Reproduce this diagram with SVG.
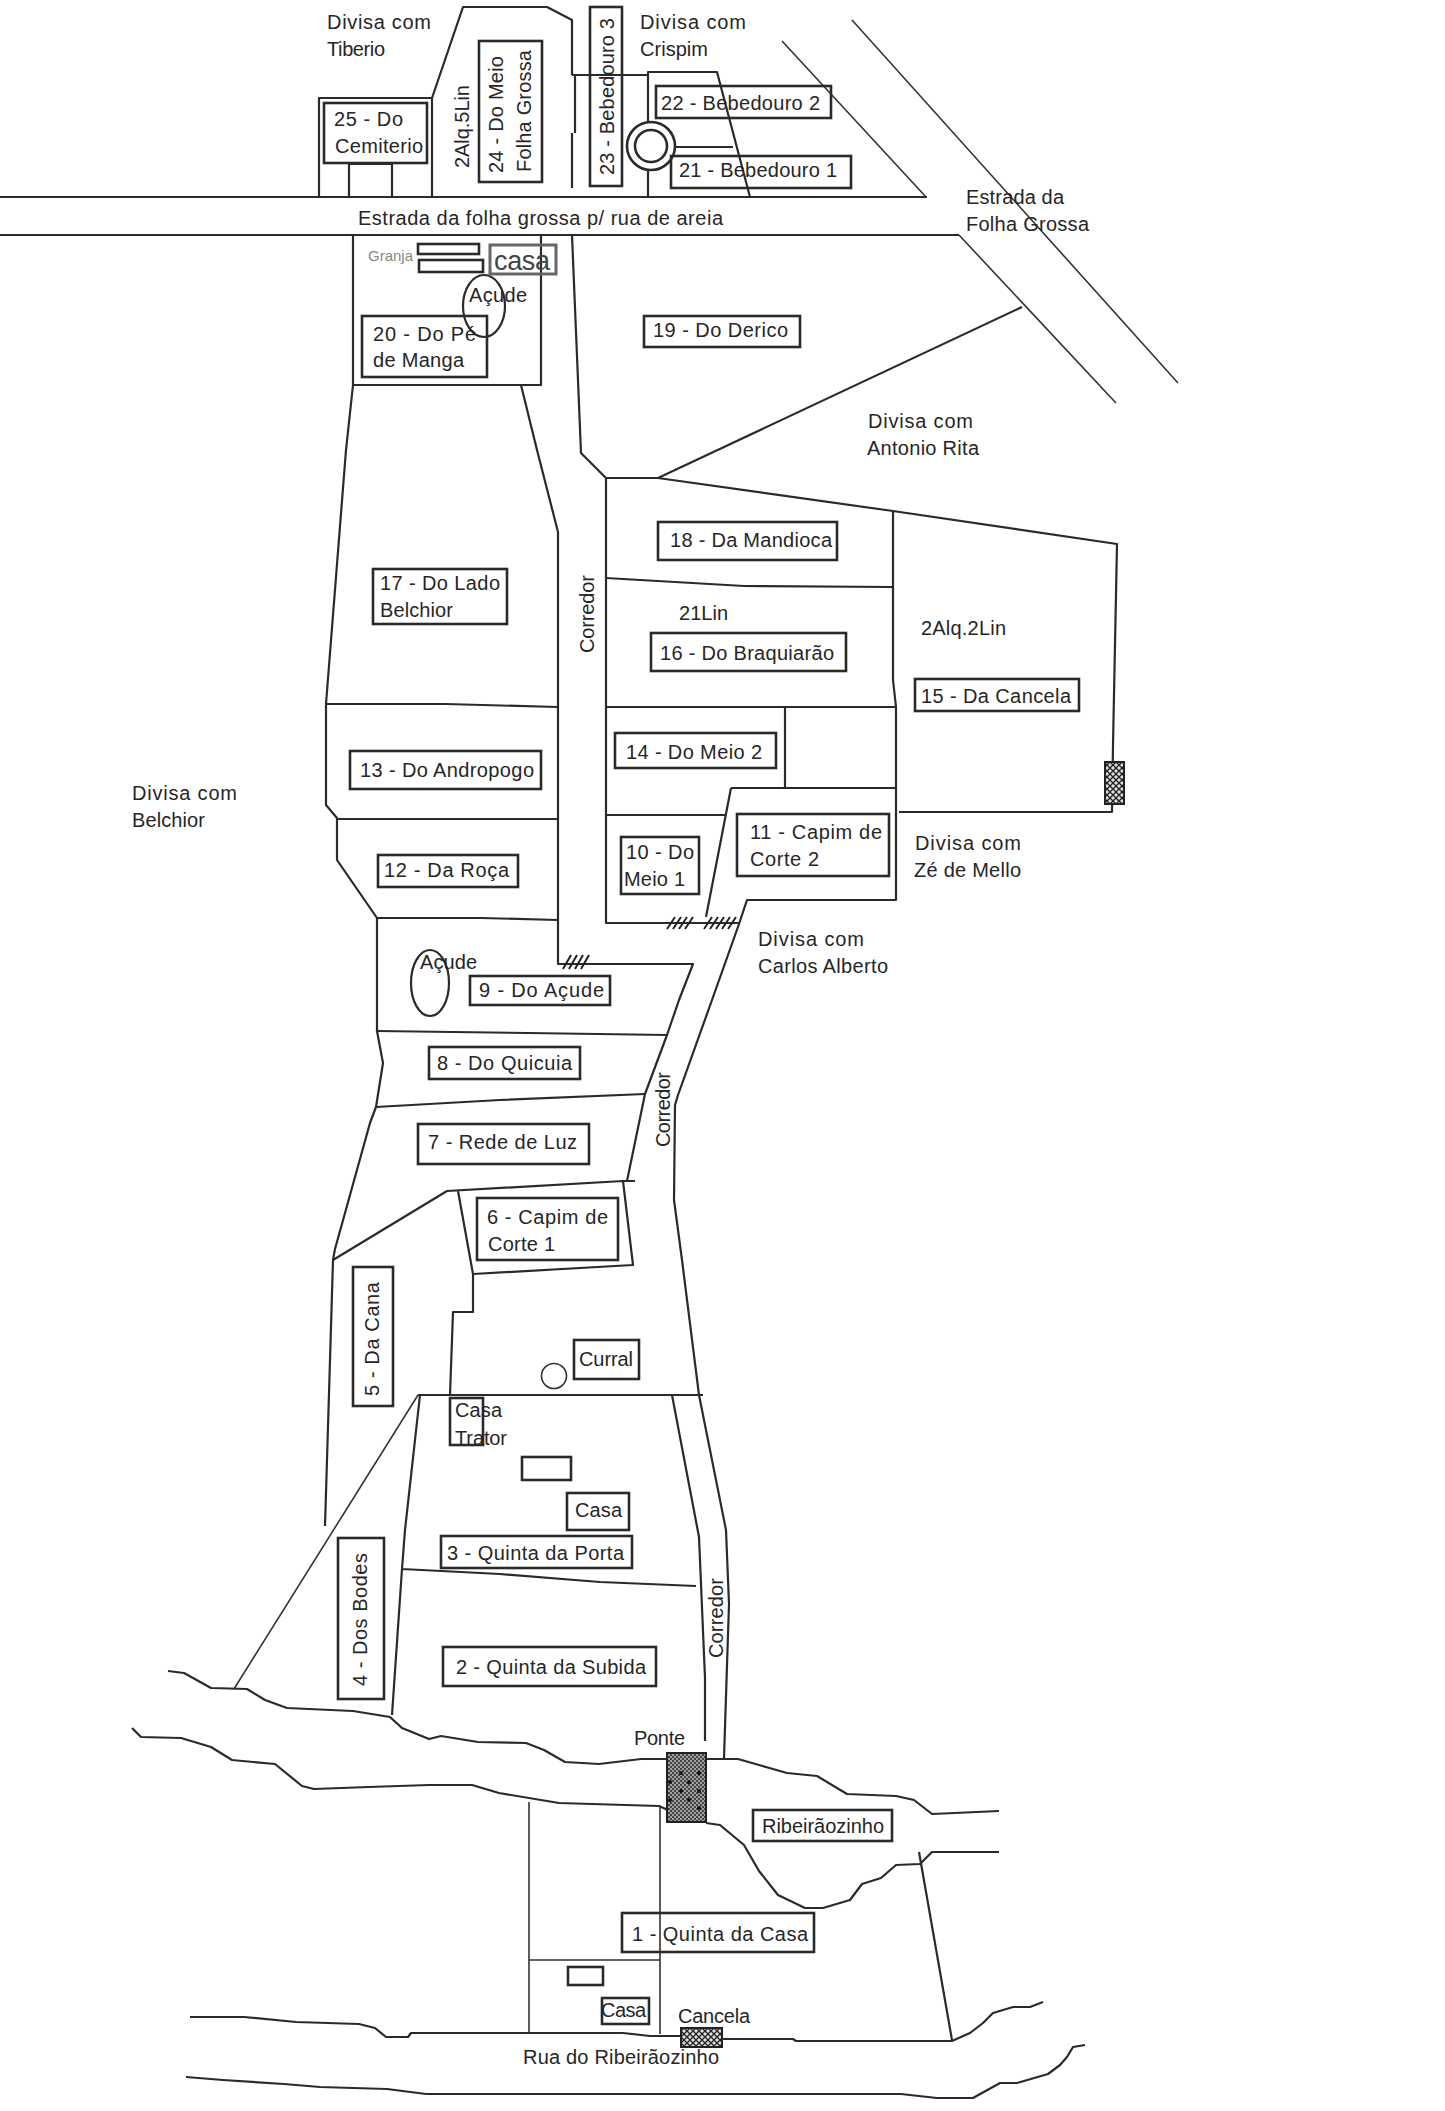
<svg xmlns="http://www.w3.org/2000/svg" width="1445" height="2111" viewBox="0 0 1445 2111">
<style>
text{font-family:"Liberation Sans",Arial,sans-serif;font-size:20px;fill:#262626}
.b{fill:none;stroke:#2a2a2a;stroke-width:2.6}
.l{fill:none;stroke:#2a2a2a;stroke-width:2.2;stroke-linejoin:round}
.t{fill:none;stroke:#333;stroke-width:1.6}
.h{fill:none;stroke:#222;stroke-width:2}
</style>
<defs>
<pattern id="cross" width="6" height="6" patternUnits="userSpaceOnUse"><rect width="6" height="6" fill="#ddd"/><path d="M0 0L6 6M6 0L0 6" stroke="#222" stroke-width="1.3"/></pattern>
<pattern id="dots" width="4" height="4" patternUnits="userSpaceOnUse"><rect width="4" height="4" fill="#a0a0a0"/><path d="M0 0h2v2H0zM2 2h2v2H2z" fill="#444"/></pattern>
</defs>
<rect width="1445" height="2111" fill="#fff"/>
<g id="connectors">
<path class="l" d="M0 197H927M0 235H959"/>
<path class="l" d="M319 197V98H432V197M432 98L463 7H547L572 20V75M575 75V133M572 133V188"/>
<path class="l" d="M349 197V164H392V197"/>
<path class="l" d="M572 75H647M648 197V170M648 122V72H717L750 197M675 147H733"/>
<path class="t" d="M782 41L926 197M852 20L1178 383M959 235L1116 403"/>
<path class="l" d="M1022 307L658 478"/>
<path class="l" d="M353 235V385H541V235M521 385L537 450L558 532V964H693L679 1000L667 1035L645 1094L627 1181"/>
<path class="l" d="M353 385L346 450L326 704V805L337 818V860L377 918V1031L383 1063L376 1107L370 1123L335 1249L333 1260L330 1360L325 1526"/>
<path class="l" d="M572 235L581 453L606 478V923H739M606 478H658L893 511L1117 544L1113 745L1112 812H899M893 511V680L896 707V900H747L739 924L712 1000L678 1095L675 1105L674 1200L682 1260L699 1395L726 1530L729 1604L724 1758"/>
<path class="l" d="M606 578L744 586L893 587M606 707H896M785 707V788M731 788H896M731 788L706 917M606 815H725"/>
<path class="l" d="M326 704L445 704L558 707M337 819H558M377 918H481L558 920"/>
<path class="l" d="M377 1031L528 1033L667 1035M376 1107L500 1100L645 1094"/>
<path class="l" d="M333 1260L447 1191L623 1181H635M458 1191L473 1274L633 1265L623 1181M473 1274V1312H453L450 1395"/>
<path class="l" d="M418 1395H703M672 1395L699 1537L705 1678V1741"/>
<path class="t" d="M418 1395L234 1689"/>
<path class="l" d="M420 1395L405 1530L402 1569L392 1715M402 1569L500 1574L600 1582L696 1586"/>
<path class="h" d="M667 929L675 917M673 929L681 917M679 929L687 917M685 929L693 917M704 929L712 917M710 929L718 917M716 929L724 917M722 929L730 917M728 929L736 917M563 969L571 955M569 969L577 955M575 969L583 955M581 969L589 955"/>
<path class="l" d="M168 1671L184 1673L211 1688L247 1689L265 1700L287 1708L353 1711L390 1717L402 1728L429 1739L441 1736L478 1742L526 1743L544 1750L565 1762L599 1764L641 1759H738L759 1765L787 1773L817 1776L847 1794L896 1796L914 1800L932 1814L999 1811"/>
<path class="l" d="M132 1728L141 1737L181 1738L211 1747L232 1760L275 1764L302 1786L314 1789L369 1787L429 1785H472L499 1793L559 1803L659 1806L668 1810"/>
<path class="l" d="M706 1823L720 1825L744 1845L759 1871L778 1895L805 1908L823 1908L850 1900L862 1884L881 1878L896 1865L920 1864L932 1852H999"/>
<path class="t" d="M529 1802V2032M660 1806V2034M529 1960H660"/>
<path class="l" d="M919 1852L952 2040"/>
<path class="l" d="M190 2017H244L296 2022L359 2024L375 2028L386 2037H408L411 2033H623L650 2036H681L723 2039H793L796 2041H952L970 2033L983 2023L993 2013L1013 2007H1030L1043 2002"/>
<path class="l" d="M186 2077L223 2080L284 2084L320 2087L387 2089L426 2094H901L937 2098H973L1000 2083H1017L1048 2074L1060 2065L1067 2057L1073 2047L1085 2045"/>
</g>
<g id="gate-cancela-15"><rect x="1105" y="762" width="19" height="42" fill="url(#cross)" stroke="#222" stroke-width="2"/></g>
<g id="ponte"><rect x="667" y="1753" width="39" height="69" fill="url(#dots)" stroke="#222" stroke-width="2"/><path d="M681 1773h.01M699 1773h.01M670 1782h.01M689 1782h.01M681 1791h.01M699 1791h.01M670 1800h.01M689 1800h.01M699 1808h.01" stroke="#111" stroke-width="4" stroke-linecap="round"/><text x="634" y="1745" textLength="51">Ponte</text></g>
<g id="cancela"><rect x="681" y="2028" width="41" height="19" fill="url(#cross)" stroke="#222" stroke-width="2"/><text x="678" y="2023" textLength="72">Cancela</text></g>
<g id="n25"><rect class="b" x="324" y="103" width="103" height="60"/><text x="334" y="126" textLength="69">25 - Do</text><text x="335" y="153" textLength="88">Cemiterio</text></g>
<g id="n24"><rect class="b" x="479" y="41" width="63" height="141"/><text transform="rotate(-90 503 173)" x="503" y="173" textLength="117">24 - Do Meio</text><text transform="rotate(-90 531 172)" x="531" y="172" textLength="122">Folha Grossa</text></g>
<g id="n23"><rect class="b" x="590" y="7" width="32" height="179"/><text transform="rotate(-90 614 175)" x="614" y="175" textLength="157">23 - Bebedouro 3</text></g>
<g id="n22"><rect class="b" x="656" y="86" width="175" height="32"/><text x="661" y="110" textLength="159">22 - Bebedouro 2</text></g>
<g id="n21"><rect class="b" x="671" y="156" width="180" height="32"/><text x="679" y="177" textLength="158">21 - Bebedouro 1</text></g>
<g id="bebedouro"><circle class="b" cx="651" cy="146" r="24"/><circle class="b" cx="651" cy="146" r="16"/></g>
<g id="n20"><rect class="b" x="362" y="316" width="125" height="61"/><text x="373" y="341" textLength="103">20 - Do Pé</text><text x="373" y="367" textLength="91">de Manga</text></g>
<g id="acude-top"><ellipse class="l" cx="484" cy="306" rx="21" ry="31"/><text x="469" y="302" textLength="58">Açude</text></g>
<g id="granja"><rect class="b" x="418" y="244" width="61" height="10"/><rect class="b" x="419" y="260" width="64" height="12"/><text x="368" y="261" textLength="45" style="font-size:15px;fill:#888">Granja</text></g>
<g id="casa-top"><rect x="490" y="245" width="66" height="29" fill="none" stroke="#666" stroke-width="3"/><text x="494" y="270" textLength="56" style="font-size:27px;fill:#444">casa</text></g>
<g id="n19"><rect class="b" x="644" y="316" width="156" height="31"/><text x="653" y="337" textLength="135">19 - Do Derico</text></g>
<g id="n18"><rect class="b" x="658" y="522" width="179" height="38"/><text x="670" y="547" textLength="162">18 - Da Mandioca</text></g>
<g id="n17"><rect class="b" x="373" y="569" width="134" height="55"/><text x="380" y="590" textLength="120">17 - Do Lado</text><text x="380" y="617" textLength="73">Belchior</text></g>
<g id="n16"><rect class="b" x="651" y="633" width="195" height="38"/><text x="660" y="660" textLength="174">16 - Do Braquiarão</text></g>
<g id="n15"><rect class="b" x="915" y="679" width="164" height="32"/><text x="921" y="703" textLength="150">15 - Da Cancela</text></g>
<g id="n14"><rect class="b" x="615" y="733" width="161" height="35"/><text x="626" y="759" textLength="136">14 - Do Meio 2</text></g>
<g id="n13"><rect class="b" x="350" y="751" width="191" height="38"/><text x="360" y="777" textLength="174">13 - Do Andropogo</text></g>
<g id="n12"><rect class="b" x="378" y="855" width="140" height="32"/><text x="384" y="877" textLength="125">12 - Da Roça</text></g>
<g id="n11"><rect class="b" x="737" y="814" width="152" height="62"/><text x="750" y="839" textLength="132">11 - Capim de</text><text x="750" y="866" textLength="69">Corte 2</text></g>
<g id="n10"><rect class="b" x="621" y="837" width="78" height="57"/><text x="626" y="859" textLength="68">10 - Do</text><text x="624" y="886" textLength="61">Meio 1</text></g>
<g id="acude-low"><ellipse class="l" cx="430" cy="983" rx="19" ry="33"/><text x="420" y="969" textLength="57">Açude</text></g>
<g id="n9"><rect class="b" x="470" y="976" width="140" height="29"/><text x="479" y="997" textLength="125">9 - Do Açude</text></g>
<g id="n8"><rect class="b" x="429" y="1047" width="151" height="32"/><text x="437" y="1070" textLength="135">8 - Do Quicuia</text></g>
<g id="n7"><rect class="b" x="418" y="1124" width="171" height="40"/><text x="428" y="1149" textLength="149">7 - Rede de Luz</text></g>
<g id="n6"><rect class="b" x="477" y="1198" width="141" height="62"/><text x="487" y="1224" textLength="121">6 - Capim de</text><text x="488" y="1251" textLength="67">Corte 1</text></g>
<g id="n5"><rect class="b" x="353" y="1267" width="40" height="139"/><text transform="rotate(-90 379 1396)" x="379" y="1396" textLength="114">5 - Da Cana</text></g>
<g id="curral"><rect class="b" x="574" y="1340" width="65" height="39"/><text x="579" y="1366" textLength="54">Curral</text><circle class="t" cx="554" cy="1376" r="12.5"/></g>
<g id="casa-trator"><rect class="b" x="450" y="1398" width="33" height="47"/><text x="455" y="1417" textLength="47">Casa</text><text x="455" y="1445" textLength="52">Trator</text></g>
<g id="shed"><rect class="b" x="522" y="1457" width="49" height="23"/></g>
<g id="casa-mid"><rect class="b" x="567" y="1493" width="62" height="37"/><text x="575" y="1517" textLength="47">Casa</text></g>
<g id="n4"><rect class="b" x="338" y="1538" width="46" height="161"/><text transform="rotate(-90 367 1686)" x="367" y="1686" textLength="133">4 - Dos Bodes</text></g>
<g id="n3"><rect class="b" x="441" y="1536" width="191" height="32"/><text x="447" y="1560" textLength="177">3 - Quinta da Porta</text></g>
<g id="n2"><rect class="b" x="443" y="1647" width="213" height="39"/><text x="456" y="1674" textLength="190">2 - Quinta da Subida</text></g>
<g id="ribeiraozinho"><rect class="b" x="753" y="1810" width="139" height="31"/><text x="762" y="1833" textLength="122">Ribeirãozinho</text></g>
<g id="n1"><rect class="b" x="622" y="1913" width="192" height="39"/><text x="632" y="1941" textLength="176">1 - Quinta da Casa</text></g>
<g id="sede"><rect class="b" x="568" y="1967" width="35" height="18"/><rect class="b" x="602" y="1998" width="47" height="26"/><text x="601" y="2017" textLength="45">Casa</text></g>
<g id="labels">
<text x="327" y="29" textLength="104">Divisa com</text><text x="327" y="56" textLength="58">Tiberio</text>
<text x="640" y="29" textLength="106">Divisa com</text><text x="640" y="56" textLength="68">Crispim</text>
<text x="966" y="204" textLength="98">Estrada da</text><text x="966" y="231" textLength="123">Folha Grossa</text>
<text x="358" y="225" textLength="365">Estrada da folha grossa p/ rua de areia</text>
<text x="868" y="428" textLength="105">Divisa com</text><text x="867" y="455" textLength="112">Antonio Rita</text>
<text x="679" y="620" textLength="49">21Lin</text>
<text x="921" y="635" textLength="85">2Alq.2Lin</text>
<text x="915" y="850" textLength="106">Divisa com</text><text x="914" y="877" textLength="107">Zé de Mello</text>
<text x="758" y="946" textLength="106">Divisa com</text><text x="758" y="973" textLength="130">Carlos Alberto</text>
<text x="132" y="800" textLength="105">Divisa com</text><text x="132" y="827" textLength="73">Belchior</text>
<text transform="rotate(-90 469 168)" x="469" y="168" textLength="83">2Alq.5Lin</text>
<text transform="rotate(-90 594 653)" x="594" y="653" textLength="78">Corredor</text>
<text transform="rotate(-90 670 1147)" x="670" y="1147" textLength="75">Corredor</text>
<text transform="rotate(-90 723 1658)" x="723" y="1658" textLength="80">Corredor</text>
<text x="523" y="2064" textLength="196">Rua do Ribeirãozinho</text>
</g>
</svg>
